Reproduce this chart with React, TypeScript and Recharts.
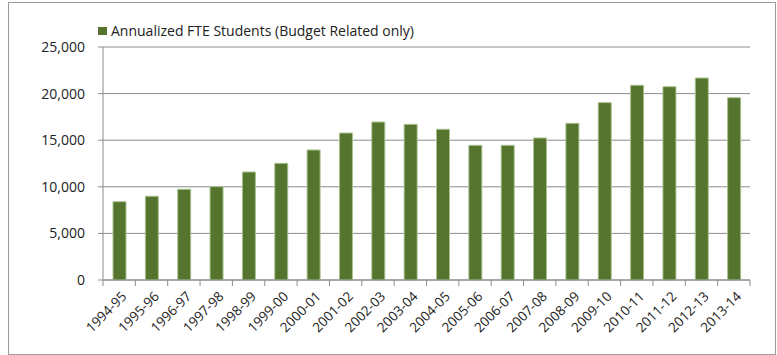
import { Bar, BarChart, CartesianGrid, XAxis, YAxis } from 'recharts'

const years = [
  '1994-95', '1995-96', '1996-97', '1997-98', '1998-99', '1999-00', '2000-01',
  '2001-02', '2002-03', '2003-04', '2004-05', '2005-06', '2006-07', '2007-08',
  '2008-09', '2009-10', '2010-11', '2011-12', '2012-13', '2013-14',
]
const fteStudents = [
  8400, 8980, 9730, 10010, 11590, 12520, 13950, 15770, 16950, 16700,
  16170, 14450, 14450, 15240, 16810, 19030, 20890, 20740, 21670, 19560,
]
const yTicks = [0, 5000, 10000, 15000, 20000, 25000]

const SERIES = 'Annualized FTE Students (Budget Related only)'
const FONT = '"Open Sans", sans-serif'
const GREEN = '#55752f'
const AXIS = '#8c8c8c'

const W = 777
const H = 355
const X_H = 75
const Y_W = 103
const M = { top: 47, right: 27, bottom: 0, left: 0 }
const BAND = (W - M.right - Y_W) / years.length

const data = years.map((name, i) => ({ name, value: fteStudents[i] }))

// excel puts x ticks between categories, not under them
// eslint-disable-next-line @typescript-eslint/no-explicit-any
function XTick(props: any) {
  const { x, y, payload, index } = props
  const left = x - BAND / 2
  return (
    <g>
      <line x1={left} y1={y - 8} x2={left} y2={y - 2} stroke={AXIS} />
      {index === years.length - 1 && (
        <line x1={x + BAND / 2} y1={y - 8} x2={x + BAND / 2} y2={y - 2} stroke={AXIS} />
      )}
      <text x={x + 5} y={y + 6} textAnchor="end" fontSize={13.5} fill="#222" fontFamily={FONT}
        transform={`rotate(-45 ${x + 5} ${y + 6})`} dy="0.35em">
        {payload.value}
      </text>
    </g>
  )
}

export default function App() {
  return (
    <div style={{ position: 'absolute', left: 0, top: 0, width: W, height: H, background: '#fff' }}>
      <div style={{ position: 'absolute', left: 8, top: 2, width: 766, height: 351, border: '1px solid #9a9a9a' }} />
      <div style={{ position: 'absolute', left: 98, top: 21, display: 'flex', alignItems: 'center',
        fontFamily: FONT, fontSize: 14, color: '#222', zIndex: 1 }}>
        <span style={{ display: 'inline-block', width: 9, height: 8, background: GREEN, marginRight: 4 }} />
        {SERIES}
      </div>
      <BarChart width={W} height={H} data={data} margin={M}>
        <CartesianGrid vertical={false} stroke={AXIS} />
        <XAxis dataKey="name" interval={0} stroke={AXIS} tickLine={false} height={X_H}
          tick={<XTick />} />
        <YAxis width={Y_W} domain={[0, 25000]} ticks={yTicks} stroke={AXIS} tickSize={5} tickMargin={13}
          tickFormatter={(v: number) => v.toLocaleString('en-US')}
          tick={{ fontSize: 14, fill: '#222', fontFamily: FONT }} />
        <Bar dataKey="value" name={SERIES} fill={GREEN} stroke="#a9c18f" strokeWidth={1} barSize={13}
          isAnimationActive={false} />
      </BarChart>
    </div>
  )
}
